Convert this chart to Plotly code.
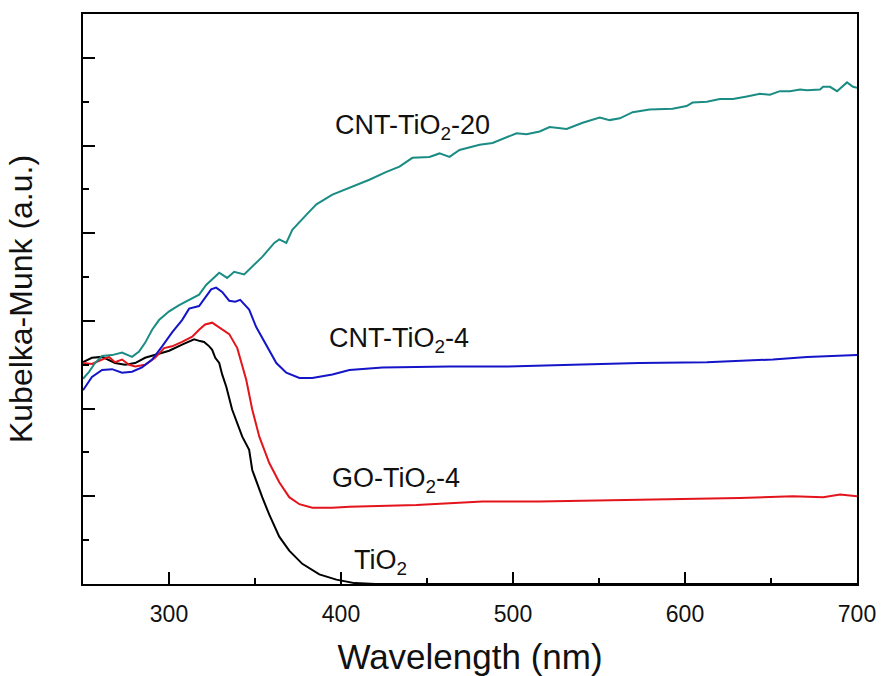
import plotly.graph_objects as go

# TiO2 (black)
tio2_x = [250, 255.2, 261.1, 268.6, 274.5, 280.3, 286.1, 291.9, 297.2, 300.1, 307.6, 314.6, 318.1, 320.4,
          323.4, 325.1, 326.9, 329.2, 330.9, 333.3, 336.7, 342.6, 346.6, 348.4, 354.2, 358.3, 364.1, 369.9,
          377.5, 387.4, 397.3, 408, 420, 450, 500, 550, 600, 650, 700]
tio2_y = [2.53, 2.58, 2.59, 2.52, 2.50, 2.52, 2.58, 2.61, 2.64, 2.66, 2.73, 2.79, 2.77, 2.76,
          2.71, 2.67, 2.58, 2.52, 2.39, 2.25, 1.99, 1.68, 1.53, 1.30, 0.99, 0.79, 0.54, 0.38,
          0.23, 0.11, 0.05, 0.01, 0.0, 0.0, 0.0, 0.0, 0.0, 0.0, 0.0]

# GO-TiO2-4 (red)
go_x = [250, 255.2, 261.1, 265.1, 268.6, 272.7, 276.8, 280.3, 286.1, 291.9, 297.2, 301.8, 307.6, 313.5,
        317.5, 321.0, 325.1, 329.2, 335.0, 339.7, 342.6, 344.9, 348.4, 352.5, 358.3, 364.1, 369.9, 375.8,
        383.3, 395.0, 404.9, 443.9, 482.3, 515.5, 573.5, 631.9, 662.8, 680.3, 690.2, 700]
go_y = [2.52, 2.51, 2.56, 2.59, 2.53, 2.56, 2.50, 2.48, 2.50, 2.58, 2.69, 2.71, 2.76, 2.82,
        2.90, 2.96, 2.98, 2.93, 2.85, 2.69, 2.50, 2.33, 1.99, 1.68, 1.38, 1.16, 0.99, 0.91,
        0.87, 0.87, 0.88, 0.90, 0.94, 0.94, 0.96, 0.98, 1.00, 0.99, 1.02, 1.00]

# CNT-TiO2-4 (blue)
cnt4_x = [250, 255.2, 261.1, 266.9, 272.7, 278.5, 284.3, 290.2, 296.0, 301.8, 307.6, 311.7, 317.5, 321.6,
          324.5, 327.4, 330.9, 335.0, 338.5, 341.4, 344.9, 346.6, 350.7, 356.5, 362.4, 368.2, 375.8, 383.3,
          395.0, 404.9, 424.1, 463.1, 496.3, 534.7, 573.5, 612.7, 651.2, 671.0, 700]
cnt4_y = [2.21, 2.36, 2.44, 2.45, 2.41, 2.42, 2.47, 2.56, 2.71, 2.87, 3.01, 3.14, 3.17, 3.28,
          3.36, 3.38, 3.33, 3.23, 3.22, 3.24, 3.16, 3.13, 2.93, 2.73, 2.52, 2.41, 2.35, 2.35,
          2.39, 2.44, 2.47, 2.48, 2.48, 2.50, 2.52, 2.53, 2.56, 2.59, 2.61]

# CNT-TiO2-20 (teal)
cnt20_x = [250, 253.5, 257.0, 261.1, 266.9, 272.7, 278.5, 282.6, 286.1, 290.2, 294.2, 300.1, 305.9, 311.7,
           317.5, 321.6, 325.1, 329.2, 333.8, 337.9, 343.7, 348.4, 354.2, 361.2, 364.1, 368.2, 371.7, 379.8,
           385.7, 395.0, 406.6, 416.5, 426.4, 434.0, 441.5, 451.4, 457.3, 463.1, 468.9, 480.6, 488.1, 496.3,
           502.1, 507.9, 515.5, 521.3, 531.2, 540.5, 550.4, 556.2, 562.1, 569.6, 579.4, 592.8, 600.9, 604.4,
           612.7, 620.3, 627.9, 636.0, 643.6, 649.4, 655.2, 661.1, 666.9, 671.0, 678.5, 680.3, 684.3, 688.4,
           694.2, 697.7, 700]
cnt20_y = [2.34, 2.42, 2.52, 2.60, 2.61, 2.64, 2.59, 2.65, 2.75, 2.90, 3.01, 3.11, 3.18, 3.24,
           3.30, 3.41, 3.48, 3.55, 3.49, 3.56, 3.53, 3.62, 3.73, 3.89, 3.93, 3.89, 4.04, 4.21,
           4.33, 4.44, 4.53, 4.61, 4.70, 4.76, 4.86, 4.87, 4.91, 4.87, 4.95, 5.01, 5.03, 5.09,
           5.14, 5.13, 5.16, 5.21, 5.19, 5.26, 5.32, 5.29, 5.31, 5.38, 5.41, 5.42, 5.45, 5.49,
           5.50, 5.53, 5.53, 5.56, 5.59, 5.58, 5.62, 5.62, 5.64, 5.63, 5.64, 5.67, 5.67, 5.62,
           5.72, 5.67, 5.66]

x_ticks = [300, 400, 500, 600, 700]

labels = ["CNT-TiO<sub>2</sub>-20", "CNT-TiO<sub>2</sub>-4", "GO-TiO<sub>2</sub>-4", "TiO<sub>2</sub>"]
label_x = [441.5, 434, 432, 423]
label_y = [5.21, 2.78, 1.19, 0.25]

fig = go.Figure()
fig.add_trace(go.Scatter(x=tio2_x, y=tio2_y, mode="lines", line=dict(color="#000000", width=2)))
fig.add_trace(go.Scatter(x=go_x, y=go_y, mode="lines", line=dict(color="#e3141b", width=2)))
fig.add_trace(go.Scatter(x=cnt4_x, y=cnt4_y, mode="lines", line=dict(color="#1414c8", width=2)))
fig.add_trace(go.Scatter(x=cnt20_x, y=cnt20_y, mode="lines", line=dict(color="#1a8c84", width=2)))

for t, lx, ly in zip(labels, label_x, label_y):
    fig.add_annotation(x=lx, y=ly, xref="x", yref="y", text=t, showarrow=False,
                       xanchor="center", yanchor="middle",
                       font=dict(family="Liberation Sans, Arial", size=27, color="#111111"))

axis_common = dict(showline=True, linecolor="black", linewidth=2, mirror=True, showgrid=False,
                   zeroline=False, ticks="inside", tickcolor="black", tickwidth=2)

fig.update_layout(
    width=881, height=676,
    margin=dict(l=83, r=24, t=14, b=92, autoexpand=False),
    paper_bgcolor="white", plot_bgcolor="white",
    showlegend=False,
    font=dict(family="Liberation Sans, Arial", color="#111111"),
    xaxis=dict(range=[250, 700], tickvals=x_ticks, ticklen=12, ticklabelstandoff=8,
               tickfont=dict(size=23),
               minor=dict(ticks="inside", ticklen=6, dtick=50, tick0=250, tickcolor="black", tickwidth=2),
               title=dict(text="Wavelength (nm)", font=dict(size=35), standoff=34),
               **axis_common),
    yaxis=dict(range=[0, 6.5], dtick=1, tick0=0, ticklen=12, showticklabels=False,
               minor=dict(ticks="inside", ticklen=6, dtick=0.5, tick0=0, tickcolor="black", tickwidth=2),
               title=dict(text="Kubelka-Munk (a.u.)", font=dict(size=32), standoff=39),
               **axis_common),
)

fig.write_html("out.html", config={"displayModeBar": False},
               post_script="document.body.style.margin='0';document.body.style.overflow='hidden';")
